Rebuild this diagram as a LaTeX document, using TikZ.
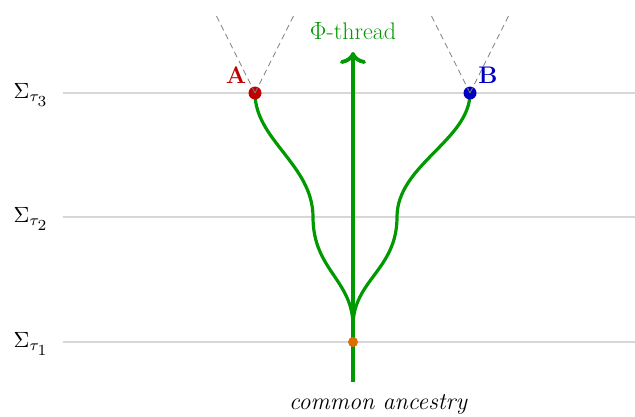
\documentclass[tikz,border=0pt]{standalone}
\usetikzlibrary{arrows.meta}
\definecolor{thread}{RGB}{0,153,0}
\definecolor{evA}{RGB}{190,0,0}
\definecolor{evB}{RGB}{0,0,190}
\definecolor{anc}{RGB}{220,110,0}
\definecolor{slice}{RGB}{215,215,215}
\newcommand{\bigsz}{\fontsize{24}{28}\selectfont}
\tikzset{
  slicel/.style={draw=slice,line width=1.6pt},
  slicelab/.style={anchor=east,scale=2.2,inner sep=0pt},
  cone/.style={draw=gray,dashed,line width=0.7pt,dash pattern=on 6pt off 4pt},
  worldline/.style={draw=thread,line width=3.2pt},
  evdot/.style={circle,inner sep=0pt,minimum size=13pt},
}
\begin{document}
\begin{tikzpicture}[x=1pt,y=-1pt]
\useasboundingbox (0,0) rectangle (635,416);
% slices
\foreach \n/\yy/\k in {s3/93/3,s2/217/2,s1/342/1}{
  \coordinate (\n l) at (63,\yy);
  \coordinate (\n r) at (635,\yy);
  \draw[slicel] (\n l) -- (\n r);
  \node[slicelab] (\n lab) at (49,\yy+2) {$\Sigma_{\tau_{\scriptstyle\k}}$};
}
% coordinates
\coordinate (A) at (255,93);
\coordinate (B) at (470,93);
\coordinate (O) at (353,342);
\coordinate (M) at (353,326);
\coordinate (bot) at (353,382);
\coordinate (top) at (353,52);
\coordinate (Aul) at (215,13);
\coordinate (Aur) at (295,13);
\coordinate (Bul) at (430,13);
\coordinate (Bur) at (510,13);
% thread
\draw[worldline,line width=3.8pt,-{Computer Modern Rightarrow[length=12pt,width=26pt,line width=3.8pt]}] (bot) -- (top);
\draw[worldline] (A) .. controls (255,140) and (313,165) .. (313,217)
  .. controls (313,270) and (353,280) .. (M);
\draw[worldline] (B) .. controls (470,140) and (397,165) .. (397,217)
  .. controls (397,270) and (353,280) .. (M);
% dots
\node[evdot,fill=evA] (Ad) at (A) {};
\node[evdot,fill=evB] (Bd) at (B) {};
\node[evdot,fill=anc,minimum size=10pt] (Od) at (O) {};
% light cones
\draw[cone] (A) -- (Aul);
\draw[cone] (A) -- (Aur);
\draw[cone] (B) -- (Bul);
\draw[cone] (B) -- (Bur);
% labels
\node[text=evA,font=\bigsz\bfseries] (Alab) at (236,75) {A};
\node[text=evB,font=\bigsz\bfseries] (Blab) at (488,75) {B};
\node[text=thread,font=\bigsz] (phi) at (353,31) {$\Phi$-thread};
\node[font=\bigsz\itshape] (anclab) at (378,404) {common ancestry};
\end{tikzpicture}
\end{document}
